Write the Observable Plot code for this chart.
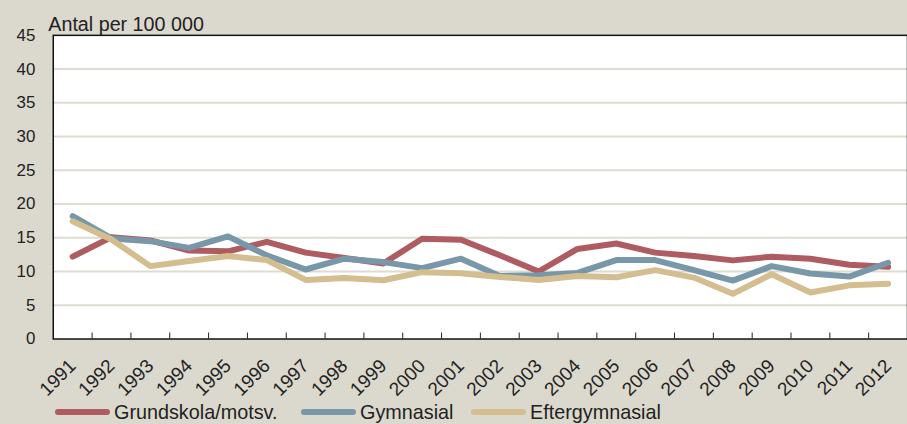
<!DOCTYPE html>
<html><head><meta charset="utf-8">
<script src="https://cdn.jsdelivr.net/npm/d3@7"></script>
<script src="https://cdn.jsdelivr.net/npm/@observablehq/plot@0.6"></script>
<style>
html,body{margin:0;padding:0;background:#dbd9cd;overflow:hidden;width:907px;height:424px;position:relative}
#legend{position:absolute;left:0;top:397px;width:907px;height:30px;font:19.8px "Liberation Sans",sans-serif;color:#222}
.item{position:absolute;top:0;height:30px;display:flex;align-items:center}
.sw{width:55px;height:6px;border-radius:3px;margin-right:4px}
</style></head><body><div id="chart"></div><div id="legend"></div>
<script>
const years = [1991,1992,1993,1994,1995,1996,1997,1998,1999,2000,2001,2002,2003,2004,2005,2006,2007,2008,2009,2010,2011,2012];
const grundskola = [12.2,15.1,14.6,13.1,13.0,14.4,12.8,12.0,11.2,14.85,14.7,12.4,10.0,13.35,14.15,12.8,12.3,11.65,12.2,11.9,11.0,10.7];
const gymnasial = [18.2,14.9,14.5,13.5,15.2,12.4,10.3,11.9,11.4,10.5,11.9,9.35,9.45,9.8,11.7,11.7,10.2,8.65,10.8,9.7,9.25,11.3];
const eftergymnasial = [17.45,14.75,10.8,11.55,12.3,11.7,8.75,9.05,8.7,9.9,9.75,9.2,8.75,9.35,9.15,10.2,9.1,6.7,9.6,6.9,7.95,8.2];
const seriesNames = ["Grundskola/motsv.","Gymnasial","Eftergymnasial"];
const seriesColors = ["#ae5c62","#7898a9","#d4bd8e"];
const yTicks = [0,5,10,15,20,25,30,35,40,45];
const yLabel = "Antal per 100 000";

const seriesValues = [grundskola, gymnasial, eftergymnasial];
const data = seriesNames.flatMap((s, k) => years.map((y, i) => ({year: y, value: seriesValues[k][i], serie: s})));
const boundaries = years.slice(0, -1).map(y => y + 0.5);

const chart = Plot.plot({
  width: 911, height: 395,
  marginLeft: 53, marginRight: 0, marginTop: 35, marginBottom: 55,
  style: {background: "transparent", fontFamily: "Liberation Sans, sans-serif", color: "#222", overflow: "visible"},
  x: {type: "linear", domain: [1990.5, 2012.5]},
  y: {domain: [0, 45]},
  color: {domain: seriesNames, range: seriesColors},
  marks: [
    Plot.frame({fill: "white"}),
    Plot.gridY(yTicks.filter(d => d > 0 && d < 45), {stroke: "#dedbd2", strokeOpacity: 1, strokeWidth: 2}),
    Plot.axisY({ticks: yTicks, tickSize: 0, tickPadding: 18, fontSize: 17, label: null}),
    Plot.axisX({ticks: boundaries, tickSize: -6, tickFormat: () => "", label: null, stroke: "#222"}),
    Plot.axisX({ticks: years, tickSize: 0, tickRotate: -45, tickPadding: 24, tickFormat: d => String(d), fontSize: 19, fontFamily: "Liberation Sans Narrow, Liberation Sans, sans-serif", label: null}),
    Plot.line(data, {x: "year", y: "value", stroke: "serie", strokeWidth: 6, strokeLinejoin: "round", strokeLinecap: "round"}),
    Plot.frame({stroke: "#111", strokeWidth: 1.5}),
    Plot.text([yLabel], {frameAnchor: "top-left", textAnchor: "start", lineAnchor: "bottom", dx: -5, dy: -4, fontSize: 19.8, fill: "#222"})
  ]
});
document.getElementById("chart").append(chart);

const legend = document.getElementById("legend");
const lefts = [55, 301, 471];
seriesNames.forEach((s, i) => {
  const it = document.createElement("div");
  it.className = "item";
  it.style.left = lefts[i] + "px";
  it.innerHTML = `<span class="sw" style="background:${seriesColors[i]}"></span><span>${s}</span>`;
  legend.append(it);
});
</script></body></html>
